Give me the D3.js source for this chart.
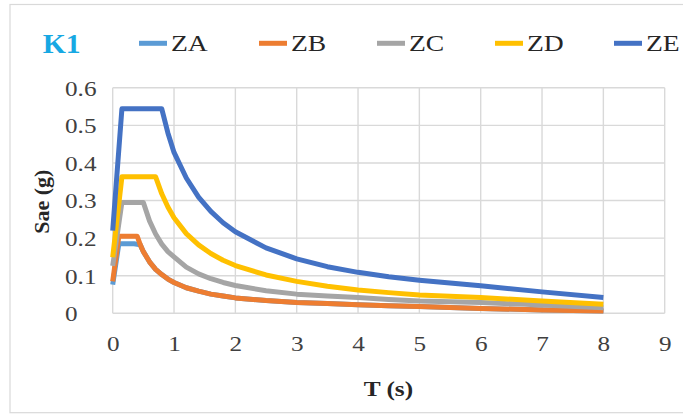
<!DOCTYPE html>
<html>
<head>
<meta charset="utf-8">
<script src="https://cdn.jsdelivr.net/npm/d3@7/dist/d3.min.js"></script>
<style>
  html, body { margin: 0; padding: 0; background: #fff; }
  svg { display: block; }
</style>
</head>
<body>
<svg id="chart" width="683" height="415"></svg>
<script>
// Elastic response spectra, period T (s) vs spectral acceleration Sae (g)
const periods = [0, 0.1, 0.15, 0.35, 0.4, 0.45, 0.5, 0.6, 0.7, 0.8, 0.9, 1, 1.2, 1.4, 1.6, 1.8, 2, 2.5, 3, 3.5, 4, 4.5, 5, 6, 7, 8];

const zaValues = [0.076, 0.185, 0.185, 0.185, null, 0.182, 0.164, 0.137, 0.117, 0.103, 0.091, 0.082, 0.068, 0.059, 0.051, 0.046, 0.041, 0.034, 0.029, 0.026, 0.023, 0.020, 0.018, 0.013, 0.009, 0.006];
const zbValues = [0.085, 0.205, 0.205, 0.205, 0.205, 0.182, 0.164, 0.137, 0.117, 0.103, 0.091, 0.082, 0.068, 0.059, 0.051, 0.046, 0.041, 0.034, 0.029, 0.026, 0.023, 0.020, 0.018, 0.013, 0.009, 0.006];
const zcValues = [0.126, null, 0.295, 0.295, 0.295, 0.295, 0.295, 0.246, 0.211, 0.184, 0.164, 0.150, 0.123, 0.105, 0.092, 0.082, 0.074, 0.060, 0.051, 0.046, 0.042, 0.037, 0.033, 0.029, 0.022, 0.015];
const zdValues = [0.149, null, 0.363, 0.363, 0.363, 0.363, 0.363, 0.363, 0.363, 0.318, 0.283, 0.254, 0.212, 0.182, 0.159, 0.141, 0.127, 0.102, 0.085, 0.072, 0.062, 0.055, 0.049, 0.042, 0.033, 0.024];
const zeValues = [0.220, null, 0.544, 0.544, 0.544, 0.544, 0.544, 0.544, 0.544, 0.544, 0.480, 0.428, 0.360, 0.309, 0.271, 0.241, 0.217, 0.174, 0.145, 0.124, 0.109, 0.097, 0.088, 0.073, 0.057, 0.042];

const seriesNames = ["ZA", "ZB", "ZC", "ZD", "ZE"];
const seriesColors = ["#5B9BD5", "#ED7D31", "#A5A5A5", "#FFC000", "#4472C4"];
const xTicks = [0, 1, 2, 3, 4, 5, 6, 7, 8, 9];
const yTicks = [0, 0.1, 0.2, 0.3, 0.4, 0.5, 0.6];
const yTickLabels = ["0", "0.1", "0.2", "0.3", "0.4", "0.5", "0.6"];
const chartTitle = "K1";
const xTitle = "T (s)";
const yTitle = "Sae (g)";

const FONT = "'Liberation Serif', Tinos, 'Times New Roman', Times, 'Nimbus Roman', FreeSerif, 'Noto Serif', 'DejaVu Serif', serif";
const WIDEN = 1.2; // horizontal text stretch

const allValues = [zaValues, zbValues, zcValues, zdValues, zeValues];
const series = seriesNames.map((name, i) => ({
  name,
  color: seriesColors[i],
  points: periods.map((t, j) => ({ t, v: allValues[i][j] })).filter(p => p.v !== null)
}));

const svg = d3.select("#chart").style("font-family", FONT);
const W = 683;
const plot = { left: 112.7, right: 664.7, top: 87.8, bottom: 313.3 };

// chart frame
svg.append("rect")
  .attr("x", 10).attr("y", 4.5)
  .attr("width", W + 20).attr("height", 408.2)
  .attr("fill", "#fff").attr("stroke", "#d9d9d9").attr("stroke-width", 1.2);

const x = d3.scaleLinear().domain([0, 9]).range([plot.left, plot.right]);
const y = d3.scaleLinear().domain([0, 0.6]).range([plot.bottom, plot.top]);

// gridlines
const grid = svg.append("g").attr("stroke", "#d9d9d9").attr("stroke-width", 1.4);
grid.selectAll("line.v").data(xTicks).join("line")
  .attr("x1", d => x(d)).attr("x2", d => x(d))
  .attr("y1", plot.top).attr("y2", plot.bottom);
grid.selectAll("line.h").data(yTicks).join("line")
  .attr("x1", plot.left).attr("x2", plot.right)
  .attr("y1", d => y(d)).attr("y2", d => y(d));

// axes (labels only; rules come from the grid)
const xAxis = svg.append("g")
  .attr("transform", `translate(0,${plot.bottom})`)
  .call(d3.axisBottom(x).tickValues(xTicks).tickSize(0).tickPadding(0).tickFormat(d3.format("d")));
xAxis.attr("font-family", null);
xAxis.select(".domain").remove();
xAxis.selectAll("text")
  .style("font-family", FONT)
  .attr("font-size", 21).attr("fill", "#404040")
  .attr("y", 0).attr("dy", "0.35em")
  .attr("transform", `translate(0,30) scale(${WIDEN},1)`);

const yAxis = svg.append("g")
  .attr("transform", `translate(${plot.left},0)`)
  .call(d3.axisLeft(y).tickValues(yTicks).tickSize(0).tickFormat((d, i) => yTickLabels[i]));
yAxis.attr("font-family", null);
yAxis.select(".domain").remove();
yAxis.selectAll("text")
  .style("font-family", FONT)
  .attr("font-size", 21).attr("fill", "#404040")
  .attr("text-anchor", "start").attr("x", 0).attr("dy", "0.35em")
  .attr("transform", `translate(${65 - plot.left},0) scale(${WIDEN},1)`);

// series lines
const line = d3.line().x(d => x(d.t)).y(d => y(d.v)).curve(d3.curveLinear);
svg.append("g").selectAll("path").data(series).join("path")
  .attr("d", d => line(d.points))
  .attr("fill", "none")
  .attr("stroke", d => d.color)
  .attr("stroke-width", 5)
  .attr("stroke-linejoin", "round")
  .attr("stroke-linecap", "butt");

// axis titles
svg.append("text")
  .attr("transform", `translate(388.4,388) scale(1.15,1)`)
  .attr("dy", "0.35em")
  .attr("text-anchor", "middle").style("font-family", FONT)
  .attr("font-size", 22).attr("font-weight", "bold").attr("fill", "#262626")
  .text(xTitle);
svg.append("text")
  .attr("transform", "translate(41,201.7) rotate(-90)")
  .attr("dy", "0.35em")
  .attr("text-anchor", "middle").style("font-family", FONT)
  .attr("font-size", 22).attr("font-weight", "bold").attr("fill", "#262626")
  .text(yTitle);

// title
svg.append("text")
  .attr("transform", "translate(42.7,43.3) scale(1.06,1)")
  .attr("dy", "0.35em").style("font-family", FONT)
  .attr("font-size", 28).attr("font-weight", "bold").attr("fill", "#17A8E3")
  .text(chartTitle);

// legend
const legendX = [139, 259, 377, 495, 614];
const legend = svg.append("g").selectAll("g").data(series).join("g")
  .attr("transform", (d, i) => `translate(${legendX[i]},43.3)`);
legend.append("line")
  .attr("x1", 0).attr("x2", 28).attr("y1", 0).attr("y2", 0)
  .attr("stroke", d => d.color).attr("stroke-width", 5);
legend.append("text")
  .attr("transform", `translate(32,0) scale(${WIDEN},1)`)
  .attr("dy", "0.35em").style("font-family", FONT)
  .attr("font-size", 23).attr("fill", "#262626")
  .text(d => d.name);
</script>
</body>
</html>
